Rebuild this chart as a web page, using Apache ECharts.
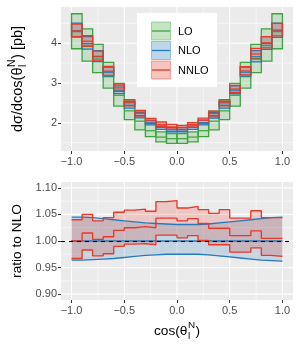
<!DOCTYPE html>
<html><head><meta charset="utf-8">
<script src="https://cdn.jsdelivr.net/npm/echarts@6/dist/echarts.min.js"></script>
<style>html,body{margin:0;padding:0;background:#fff}#c{width:300px;height:350px}</style>
</head><body><div id="c"></div>
<script>
// ---------- data ----------
const binEdges = [-1.0,-0.9,-0.8,-0.7,-0.6,-0.5,-0.4,-0.3,-0.2,-0.1,0.0,0.1,0.2,0.3,0.4,0.5,0.6,0.7,0.8,0.9,1.0];
const loCentral = [4.29,3.94,3.60,3.18,2.69,2.30,2.04,1.80,1.64,1.60,1.60,1.64,1.80,2.04,2.30,2.69,3.18,3.60,3.94,4.29];
const loUp      = [4.74,4.36,3.97,3.52,2.99,2.55,2.29,1.98,1.77,1.73,1.73,1.77,1.98,2.29,2.55,2.99,3.52,3.97,4.36,4.74];
const loDown    = [3.86,3.55,3.26,2.87,2.42,2.08,1.82,1.65,1.52,1.48,1.48,1.52,1.65,1.82,2.08,2.42,2.87,3.26,3.55,3.86];
const nloCentral = [4.31,3.99,3.66,3.27,2.82,2.44,2.18,2.00,1.88,1.82,1.82,1.88,2.00,2.18,2.44,2.82,3.27,3.66,3.99,4.31];
const nloUpRatio   = [1.045,1.044,1.042,1.040,1.038,1.036,1.034,1.033,1.032,1.031,1.031,1.031,1.032,1.034,1.036,1.038,1.040,1.042,1.044,1.045];
const nloDownRatio = [0.964,0.965,0.966,0.967,0.969,0.971,0.973,0.974,0.975,0.975,0.975,0.975,0.974,0.972,0.970,0.968,0.966,0.964,0.963,0.962];
const nnloCentralRatio = [1.000,1.015,1.003,1.008,1.020,1.025,1.027,1.025,1.043,1.043,1.038,1.042,1.033,1.024,1.024,1.010,1.010,1.019,1.005,1.005];
const nnloUpRatio      = [1.040,1.050,1.038,1.044,1.054,1.058,1.060,1.056,1.074,1.076,1.062,1.065,1.059,1.052,1.059,1.043,1.043,1.057,1.044,1.044];
const nnloDownRatio    = [0.967,0.983,0.972,0.976,0.990,0.994,0.995,0.993,1.011,1.011,1.006,1.010,1.001,0.993,0.993,0.979,0.979,0.987,0.973,0.971];
const xTicks = [-1.0,-0.5,0.0,0.5,1.0];
const xMinor = [-0.75,-0.25,0.25,0.75];
const yTopTicks = [2,3,4];
const yTopMinor = [1.5,2.5,3.5,4.5];
const yBotTicks = [0.90,0.95,1.00,1.05,1.10];
const yBotMinor = [0.925,0.975,1.025,1.075];
const seriesNames = ['LO','NLO','NNLO'];

// ---------- style / layout ----------
const FONT = '"Liberation Sans", Arial, Helvetica, sans-serif';
const RGB = {LO:[58,165,58], NLO:[38,122,184], NNLO:[230,57,42]};
const COL = {}, FILL = {}, KEYF = {}, KEYB = {};
seriesNames.forEach(n=>{ const c=RGB[n].join(','); COL[n]='rgb('+c+')'; FILL[n]='rgba('+c+',0.2)'; KEYF[n]='rgba('+c+',0.3)'; KEYB[n]='rgba('+c+',0.4)'; });
const X_MIN=-1.1, X_MAX=1.1, YT_MIN=1.29, YT_MAX=4.91, YB_MIN=0.889, YB_MAX=1.111;

const nloUp = nloCentral.map((c,i)=>c*nloUpRatio[i]);
const nloDown = nloCentral.map((c,i)=>c*nloDownRatio[i]);
const nnloCentral = nloCentral.map((c,i)=>c*nnloCentralRatio[i]);
const nnloUp = nloCentral.map((c,i)=>c*nnloUpRatio[i]);
const nnloDown = nloCentral.map((c,i)=>c*nnloDownRatio[i]);
const ones = nloCentral.map(()=>1);

function rectSeries(idx, lows, highs, fill, stroke, z){
  return {type:'custom', xAxisIndex:idx, yAxisIndex:idx, z, silent:true,
    data: lows.map((lo,i)=>[binEdges[i], binEdges[i+1], lo, highs[i]]),
    renderItem(p, api){
      const a = api.coord([api.value(0), api.value(3)]);
      const b = api.coord([api.value(1), api.value(2)]);
      return {type:'rect', shape:{x:a[0], y:a[1], width:b[0]-a[0], height:b[1]-a[1]},
        style:{fill, stroke: stroke || null, lineWidth: stroke?1.3:0}};
    }};
}
function segSeries(idx, vals, color, z){
  return {type:'custom', xAxisIndex:idx, yAxisIndex:idx, z, silent:true,
    data: vals.map((v,i)=>[binEdges[i], binEdges[i+1], v]),
    renderItem(p, api){
      const a = api.coord([api.value(0), api.value(2)]);
      const b = api.coord([api.value(1), api.value(2)]);
      return {type:'line', shape:{x1:a[0], y1:a[1], x2:b[0], y2:b[1]}, style:{stroke:color, lineWidth:1.2}};
    }};
}
function stepSeries(vals, color, z, extra){
  const data = binEdges.map((e,i)=>[e, vals[Math.min(i, vals.length-1)]]);
  return Object.assign({type:'line', xAxisIndex:1, yAxisIndex:1, step:'end', showSymbol:false, silent:true, z,
    data, lineStyle:{color, width:1.35}, itemStyle:{color}}, extra||{});
}
function gridLines(idx, xs, xm, ys, ym, ymin, ymax){
  const data = [];
  xm.forEach(v=>data.push([v,1,0])); ym.forEach(v=>data.push([v,0,0]));
  ys.forEach(v=>data.push([v,0,1])); xs.forEach(v=>data.push([v,1,1]));
  return {type:'custom', xAxisIndex:idx, yAxisIndex:idx, z:1, silent:true, data,
    renderItem(p, api){
      const v = api.value(0), vert = api.value(1), major = api.value(2);
      const a = vert ? api.coord([v, ymin]) : api.coord([X_MIN, v]);
      const b = vert ? api.coord([v, ymax]) : api.coord([X_MAX, v]);
      return {type:'line', shape:{x1:a[0],y1:a[1],x2:b[0],y2:b[1]}, style:{stroke:'#fff', lineWidth: major?1.1:0.55}};
    }};
}
const fmtX = v => (v<0?'\u2212':'') + Math.abs(v).toFixed(1);
function xAxis(idx){
  return {type:'value', gridIndex:idx, min:X_MIN, max:X_MAX, position:'bottom',
    axisLine:{show:false, onZero:false}, splitLine:{show:false},
    axisTick:{show:true, customValues:xTicks, length:3, lineStyle:{color:'#333', width:1}},
    axisLabel:{customValues:xTicks, formatter:fmtX, color:'#4d4d4d', fontSize:11, fontFamily:FONT, margin:5}};
}
function yAxis(idx, min, max, ticks, fmt){
  return {type:'value', gridIndex:idx, min, max, position:'left',
    axisLine:{show:false, onZero:false}, splitLine:{show:false},
    axisTick:{show:true, customValues:ticks, length:3, lineStyle:{color:'#333', width:1}},
    axisLabel:{customValues:ticks, formatter:fmt, color:'#4d4d4d', fontSize:11, fontFamily:FONT, margin:4}};
}

// ---------- titles (real text) ----------
const ctx = document.createElement('canvas').getContext('2d');
function tw(s, size){ ctx.font = size+'px '+FONT; return ctx.measureText(s).width; }
function txt(s, x, y, size, align){
  return {type:'text', x, y, style:{text:s, font: size+'px '+FONT, fill:'#000',
    align: align||'left', verticalAlign:'middle', textAlign: align||'left', textVerticalAlign:'middle'}};
}
function mathTitle(pre, sup, sub, post, size, cx, cy, rot){
  const ss = size*0.72;
  const w1 = tw(pre,size), w2 = Math.max(tw(sup,ss), tw(sub,ss))+1, w3 = tw(post,size);
  const x0 = -(w1+w2+w3)/2;
  return {type:'group', x:cx, y:cy, rotation:rot, children:[
    txt(pre, x0, 0, size), txt(sup, x0+w1+0.5, -size*0.42, ss), txt(sub, x0+w1+0.5, size*0.36, ss), txt(post, x0+w1+w2, 0, size)
  ]};
}
const TS = 13.7;
const graphic = [
  mathTitle('d\u03c3/dcos(\u03b8', 'N', 'l', ') [pb]', 14.5, 18, 79, Math.PI/2),
  {type:'text', x:17, y:241, rotation:Math.PI/2, style:{text:'ratio to NLO', font:TS+'px '+FONT, fill:'#000',
    align:'center', verticalAlign:'middle', textAlign:'center', textVerticalAlign:'middle'}},
  mathTitle('cos(\u03b8', 'N', 'l', ')', TS, 177, 331, 0),
  {type:'rect', shape:{x:137, y:13, width:80, height:74}, style:{fill:'#fff'}, z:10}
];
seriesNames.forEach((n,i)=>{
  const y = 22 + i*19.5;
  graphic.push({type:'rect', shape:{x:151.5, y:y, width:19, height:18}, style:{fill:KEYF[n], stroke:KEYB[n], lineWidth:1}, z:11});
  graphic.push({type:'line', shape:{x1:152, y1:y+9, x2:170, y2:y+9}, style:{stroke:COL[n], lineWidth:1.3}, z:12});
  graphic.push(Object.assign(txt(n, 178, y+9.5, 11), {z:12}));
});

const series = [
  gridLines(0, xTicks, xMinor, yTopTicks, yTopMinor, YT_MIN, YT_MAX),
  gridLines(1, xTicks, xMinor, yBotTicks, yBotMinor, YB_MIN, YB_MAX),
  rectSeries(0, loDown, loUp, FILL.LO, COL.LO, 3),
  rectSeries(0, nloDown, nloUp, FILL.NLO, COL.NLO, 4),
  rectSeries(0, nnloDown, nnloUp, FILL.NNLO, COL.NNLO, 5),
  segSeries(0, loCentral, COL.LO, 6),
  segSeries(0, nloCentral, COL.NLO, 6),
  segSeries(0, nnloCentral, COL.NNLO, 6),
  rectSeries(1, nloDownRatio, nloUpRatio, FILL.NLO, null, 3),
  rectSeries(1, nnloDownRatio, nnloUpRatio, FILL.NNLO, null, 4),
  stepSeries(nloUpRatio, COL.NLO, 5),
  stepSeries(nloDownRatio, COL.NLO, 5),
  stepSeries(ones, COL.NLO, 5, {markLine:{silent:true, symbol:'none', data:[{yAxis:1}], label:{show:false},
    lineStyle:{color:'#000', type:[4,4], width:1.1}, z:8}}),
  stepSeries(nnloUpRatio, COL.NNLO, 6),
  stepSeries(nnloCentralRatio, COL.NNLO, 6),
  stepSeries(nnloDownRatio, COL.NNLO, 6)
];

const chart = echarts.init(document.getElementById('c'), null, {renderer:'canvas', width:300, height:350});
chart.setOption({
  animation:false,
  textStyle:{fontFamily:FONT},
  grid:[
    {left:61, top:7, width:232, height:144, show:true, backgroundColor:'#ebebeb', borderWidth:0},
    {left:61, top:182, width:232, height:118, show:true, backgroundColor:'#ebebeb', borderWidth:0}
  ],
  xAxis:[xAxis(0), xAxis(1)],
  yAxis:[yAxis(0, YT_MIN, YT_MAX, yTopTicks, v=>String(v)), yAxis(1, YB_MIN, YB_MAX, yBotTicks, v=>v.toFixed(2))],
  graphic,
  series
});
</script></body></html>
